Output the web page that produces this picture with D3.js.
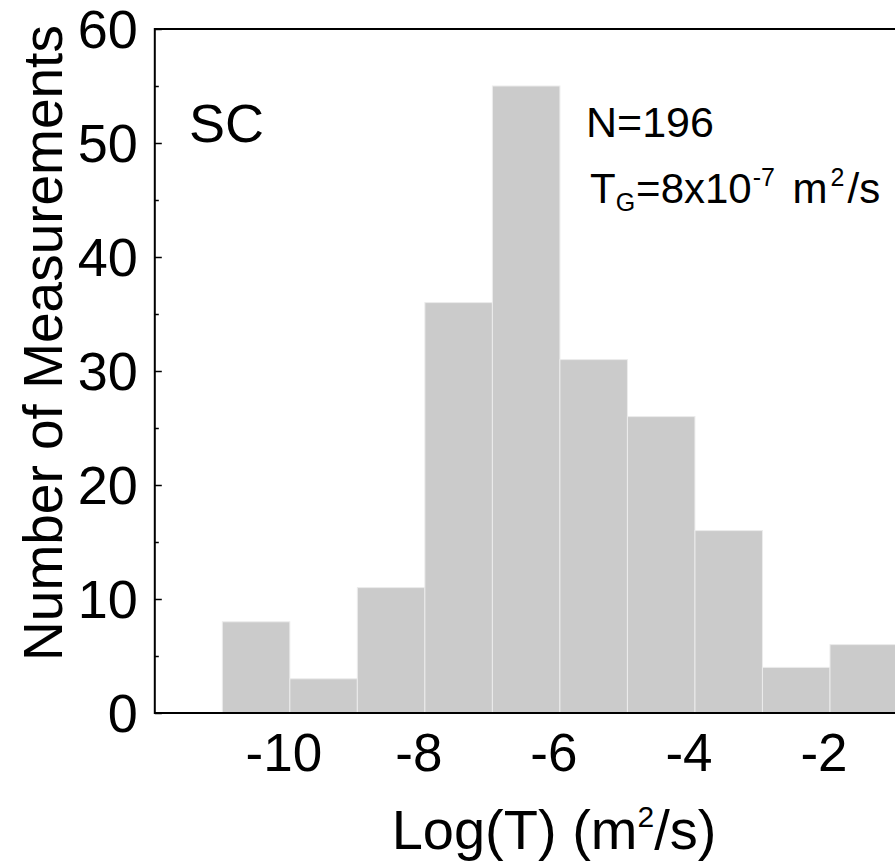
<!DOCTYPE html>
<html>
<head>
<meta charset="utf-8">
<script src="https://cdn.jsdelivr.net/npm/d3@7"></script>
<style>
  body { margin: 0; background: #fff; }
  svg text { font-family: "Liberation Sans", Arial, sans-serif; fill: #000; }
</style>
</head>
<body>
<div id="chart"></div>
<script>
// histogram bins (log10 of transmissivity) and counts
const binStarts = [-11, -10, -9, -8, -7, -6, -5, -4, -3, -2];
const counts = [8, 3, 11, 36, 55, 31, 26, 16, 4, 6];
const xTicks = [-10, -8, -6, -4, -2];
const yTicks = [0, 10, 20, 30, 40, 50, 60];
const yMinorTicks = [5, 15, 25, 35, 45, 55];

const width = 895, height = 865;
const margin = { top: 29, right: -2.5, bottom: 152, left: 154.8 };

const svg = d3.select("#chart").append("svg")
    .attr("width", width)
    .attr("height", height);

const x = d3.scaleLinear()
    .domain([-12, -1])
    .range([margin.left, width - margin.right]);

const y = d3.scaleLinear()
    .domain([0, 60])
    .range([height - margin.bottom, margin.top]);

// bars
svg.append("g")
    .selectAll("rect")
    .data(binStarts)
    .enter()
    .append("rect")
    .attr("x", d => x(d))
    .attr("y", (d, i) => y(counts[i]))
    .attr("width", d => x(d + 1) - x(d))
    .attr("height", (d, i) => y(0) - y(counts[i]))
    .attr("fill", "#cbcbcb")
    .attr("stroke", "#ececec")
    .attr("stroke-width", 1);

// top frame line
svg.append("line")
    .attr("x1", x(-12)).attr("x2", x(-1))
    .attr("y1", y(60)).attr("y2", y(60))
    .attr("stroke", "#000")
    .attr("stroke-width", 2);

// left axis, ticks pointing inward
const yAxis = svg.append("g")
    .attr("transform", `translate(${x(-12)},0)`)
    .call(d3.axisRight(y).tickValues(yTicks).tickSize(7).tickFormat(""));
yAxis.select(".domain").remove();
yAxis.selectAll(".tick line").attr("stroke-width", 1.5);

svg.append("g")
    .attr("transform", `translate(${x(-12)},0)`)
    .call(d3.axisRight(y).tickValues(yMinorTicks).tickSize(4).tickFormat(""))
    .call(g => g.select(".domain").remove())
    .selectAll(".tick line").attr("stroke-width", 1.5);

svg.append("line")
    .attr("x1", x(-12)).attr("x2", x(-12))
    .attr("y1", y(60) - 1).attr("y2", y(0) + 1)
    .attr("stroke", "#000")
    .attr("stroke-width", 2);

svg.append("g")
    .selectAll("text")
    .data(yTicks)
    .enter()
    .append("text")
    .attr("x", x(-12) - 17)
    .attr("y", d => y(d))
    .attr("dy", "0.36em")
    .attr("text-anchor", "end")
    .attr("font-size", 54)
    .text(d => d);

// bottom axis
svg.append("line")
    .attr("x1", x(-12)).attr("x2", x(-1))
    .attr("y1", y(0)).attr("y2", y(0))
    .attr("stroke", "#000")
    .attr("stroke-width", 2);

svg.append("g")
    .selectAll("text")
    .data(xTicks)
    .enter()
    .append("text")
    .attr("x", d => x(d) - 6)
    .attr("y", y(0) + 58)
    .attr("text-anchor", "middle")
    .attr("font-size", 53)
    .text(d => d);

// axis titles
const xTitle = svg.append("text")
    .attr("x", 554)
    .attr("y", 849)
    .attr("text-anchor", "middle")
    .attr("font-size", 56);
xTitle.append("tspan").text("Log(T) (m");
xTitle.append("tspan").attr("font-size", 30).attr("dy", -22).text("2");
xTitle.append("tspan").attr("dy", 22).text("/s)");

svg.append("text")
    .attr("transform", "translate(62,343) rotate(-90)")
    .attr("text-anchor", "middle")
    .attr("font-size", 55)
    .text("Number of Measurements");

// annotations
svg.append("text")
    .attr("x", 189)
    .attr("y", 142)
    .attr("font-size", 54)
    .text("SC");

svg.append("text")
    .attr("x", 586)
    .attr("y", 137)
    .attr("font-size", 43)
    .text("N=196");

const tg = svg.append("text")
    .attr("x", 590)
    .attr("y", 203)
    .attr("font-size", 42);
tg.append("tspan").text("T");
tg.append("tspan").attr("font-size", 25).attr("dy", 8).text("G");
tg.append("tspan").attr("dy", -8).attr("dx", 1).text("=8x10");
tg.append("tspan").attr("font-size", 25).attr("dy", -17).attr("dx", 1).text("-7");
tg.append("tspan").attr("dy", 17).attr("dx", 6).text(" m");
tg.append("tspan").attr("font-size", 25).attr("dy", -17).attr("dx", 3).text("2");
tg.append("tspan").attr("dy", 17).attr("dx", 3).text("/s");
</script>
</body>
</html>
